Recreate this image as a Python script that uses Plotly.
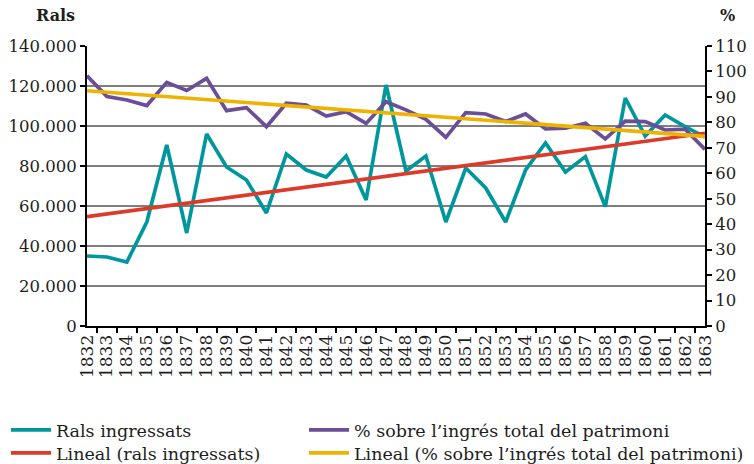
import numpy as np
import plotly.graph_objects as go

years = [str(y) for y in range(1832, 1864)]

rals = [35000, 34500, 32000, 52000, 90500, 46500, 96000, 79500, 73000, 56500,
        86000, 78000, 74500, 85000, 63000, 120500, 77500, 85000, 52000, 79000,
        69000, 52000, 78000, 91500, 77000, 84700, 59700, 114000, 95000, 105500,
        99700, 94500]

pct = [98.3, 90.1, 88.8, 86.6, 95.7, 92.5, 97.3, 84.6, 85.8, 78.3,
       87.5, 86.8, 82.5, 84.2, 79.6, 88.1, 84.9, 81.2, 74.1, 83.8,
       83.3, 80.3, 83.3, 77.4, 77.7, 79.6, 73.5, 80.5, 80.3, 77.0,
       77.3, 69.4]

left_tickvals = [0, 20000, 40000, 60000, 80000, 100000, 120000, 140000]
left_ticktext = ["0", "20.000", "40.000", "60.000", "80.000", "100.000", "120.000", "140.000"]
right_tickvals = list(range(0, 111, 10))
right_ticktext = [str(v) for v in right_tickvals]

names = ["Rals ingressats", "Lineal (rals ingressats)",
         "% sobre l’ingrés total del patrimoni",
         "Lineal (% sobre l’ingrés total del patrimoni)"]

# linear trendlines (least squares, as in the spreadsheet)
idx = np.arange(len(years))
c1 = np.polyfit(idx, rals, 1)
c2 = np.polyfit(idx, pct, 1)
trend_rals = list(np.polyval(c1, idx))
trend_pct = list(np.polyval(c2, idx))

TEAL = "#00979C"
RED = "#DE3A2A"
PURPLE = "#6A4E96"
YELLOW = "#EDB300"
FONT = "DejaVu Serif"
TXT = "#1e1e1e"

fig = go.Figure()
fig.add_trace(go.Scatter(x=years, y=rals, mode="lines", name=names[0],
                         line=dict(color=TEAL, width=3.7), legend="legend"))
fig.add_trace(go.Scatter(x=years, y=trend_rals, mode="lines", name=names[1],
                         line=dict(color=RED, width=3.7), legend="legend3"))
fig.add_trace(go.Scatter(x=years, y=pct, mode="lines", name=names[2], yaxis="y2",
                         line=dict(color=PURPLE, width=3.7), legend="legend2"))
fig.add_trace(go.Scatter(x=years, y=trend_pct, mode="lines", name=names[3], yaxis="y2",
                         line=dict(color=YELLOW, width=3.7), legend="legend4"))

col1_x = (6 - 87) / 618
col2_x = (304 - 87) / 618
row1_y = (326 - 430) / 280
row2_y = (326 - 453) / 280


def leg(x, y):
    return dict(x=x, y=y, xanchor="left", yanchor="middle", orientation="v",
                font=dict(family=FONT, size=17.5, color=TXT),
                bgcolor="rgba(0,0,0,0)", itemwidth=40, borderwidth=0)


fig.update_layout(
    width=754, height=464,
    margin=dict(l=87, r=49, t=46, b=138, autoexpand=False),
    paper_bgcolor="white", plot_bgcolor="white",
    font=dict(family=FONT, size=16, color=TXT),
    showlegend=True,
    xaxis=dict(type="category", tickangle=-90, showgrid=False, automargin=False,
               tickmode="array", tickvals=years, ticktext=years,
               showline=True, linecolor="black", linewidth=2,
               ticks="outside", ticklen=5, tickcolor="black", tickwidth=1.5,
               tickson="boundaries", tickfont=dict(family=FONT, size=17, color=TXT)),
    yaxis=dict(range=[0, 140000], tickvals=left_tickvals, ticktext=left_ticktext,
               automargin=False,
               showgrid=True, gridcolor="#7f7f7f", gridwidth=1.5,
               showline=True, linecolor="black", linewidth=2,
               ticks="outside", ticklen=5, tickcolor="black", tickwidth=1.5,
               zeroline=False, tickfont=dict(family=FONT, size=16.5, color=TXT)),
    yaxis2=dict(range=[0, 110], tickvals=right_tickvals, ticktext=right_ticktext,
                automargin=False,
                overlaying="y", side="right", showgrid=False,
                showline=True, linecolor="black", linewidth=2,
                ticks="outside", ticklen=5, tickcolor="black", tickwidth=1.5,
                zeroline=False, tickfont=dict(family=FONT, size=16.5, color=TXT)),
    legend=leg(col1_x, row1_y),
    legend2=leg(col2_x, row1_y),
    legend3=leg(col1_x, row2_y),
    legend4=leg(col2_x, row2_y),
    annotations=[
        dict(text="<b>Rals</b>", xref="paper", yref="paper",
             x=(55 - 87) / 618, y=(326 - 16) / 280, xanchor="center", yanchor="middle",
             showarrow=False, font=dict(family=FONT, size=16, color=TXT)),
        dict(text="<b>%</b>", xref="paper", yref="paper",
             x=(727 - 87) / 618, y=(326 - 16) / 280, xanchor="center", yanchor="middle",
             showarrow=False, font=dict(family=FONT, size=16, color=TXT)),
    ],
)

fig.write_html("out.html", config={"displayModeBar": False},
               post_script="document.body.style.margin='0';document.body.style.padding='0';")
